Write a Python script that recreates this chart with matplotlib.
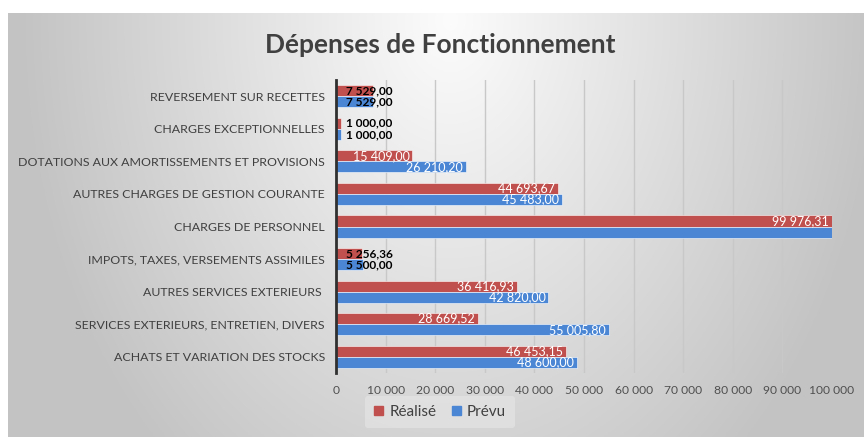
import numpy as np
import matplotlib
matplotlib.use("Agg")
import matplotlib.pyplot as plt
from matplotlib.patches import Rectangle
from matplotlib.ticker import FuncFormatter, MultipleLocator

categories = [
    "ACHATS ET VARIATION DES STOCKS",
    "SERVICES EXTERIEURS, ENTRETIEN, DIVERS",
    "AUTRES SERVICES EXTERIEURS ",
    "IMPOTS, TAXES, VERSEMENTS ASSIMILES",
    "CHARGES DE PERSONNEL",
    "AUTRES CHARGES DE GESTION COURANTE",
    "DOTATIONS AUX AMORTISSEMENTS ET PROVISIONS",
    "CHARGES EXCEPTIONNELLES",
    "REVERSEMENT SUR RECETTES",
]
realise = [46453.15, 28669.52, 36416.93, 5256.36, 99976.31, 44693.67, 15409.00, 1000.00, 7529.00]
prevu = [48600.00, 55005.80, 42820.00, 5500.00, 100000.00, 45483.00, 26210.20, 1000.00, 7529.00]
show_prevu_label = [True, True, True, True, False, True, True, True, True]
series_names = ["Réalisé", "Prévu"]

RED = "#C0504D"
BLUE = "#4A86D4"
FONT = "Lato"

W, H = 864, 437
fig = plt.figure(figsize=(W / 100, H / 100), dpi=100)
fig.patch.set_facecolor("white")

# background gradient
bg = fig.add_axes([0, 0, 1, 1], zorder=-10)
bg.set_xlim(0, W)
bg.set_ylim(H, 0)
bg.axis("off")
xx, yy = np.meshgrid(np.arange(8, W), np.arange(13, H))
r = np.sqrt(((xx - 450) / 440.0) ** 2 + ((yy - 20) / 600.0) ** 2)
g = np.clip(252 - 58 * r, 195, 252) / 255.0
img = np.dstack([g, g, g])
bg.imshow(img, extent=[8, W, H, 13], aspect="auto", interpolation="bilinear")

def fmt(v):
    s = f"{v:,.2f}"
    return s.replace(",", " ").replace(".", ",")

ax = fig.add_axes([336 / W, 1 - 373 / H, (832 - 336) / W, (373 - 80) / H])
ax.set_facecolor("none")
y = np.arange(len(categories))
h = 0.34
ax.barh(y + h / 2, realise, height=h, color=RED, edgecolor="white", linewidth=0.4, zorder=3)
ax.barh(y - h / 2, prevu, height=h, color=BLUE, edgecolor="white", linewidth=0.4, zorder=3)
ax.set_xlim(0, 100000)
ax.set_ylim(-0.5, len(categories) - 0.5)
ax.xaxis.set_major_locator(MultipleLocator(10000))
ax.xaxis.set_major_formatter(FuncFormatter(lambda v, p: f"{int(v):,}".replace(",", " ")))
ax.set_yticks(y)
ax.set_yticklabels(categories, fontfamily=FONT, fontsize=8.9, color="#404040")
for lab in ax.get_xticklabels():
    lab.set_fontfamily(FONT)
    lab.set_fontsize(8.7)
    lab.set_color("#505050")
ax.tick_params(axis="y", length=0, pad=8)
ax.tick_params(axis="x", length=0, pad=9)
ax.grid(axis="x", color="#C8C8C8", linewidth=1, zorder=0)
for s in ["top", "right", "bottom"]:
    ax.spines[s].set_visible(False)
ax.spines["left"].set_color("#303030")
ax.spines["left"].set_linewidth(2)
ax.spines["left"].set_zorder(5)

def label(val, ypos, show=True):
    if not show:
        return
    if val < 10000:
        ax.text(2000, ypos, fmt(val), ha="left", va="center", fontsize=8.6,
                fontfamily=FONT, fontweight="bold", color="black", zorder=6)
    else:
        ax.text(val - 600, ypos, fmt(val), ha="right", va="center", fontsize=9,
                fontfamily=FONT, color="white", zorder=6)

for i in range(len(categories)):
    label(realise[i], y[i] + h / 2)
    label(prevu[i], y[i] - h / 2, show_prevu_label[i])

fig.text(440 / W, 1 - 45 / H, "Dépenses de Fonctionnement", ha="center", va="center",
         fontsize=19, fontweight="bold", fontfamily=FONT, color="#404040")

handles = [Rectangle((0, 0), 1, 1, color=RED), Rectangle((0, 0), 1, 1, color=BLUE)]
leg = fig.legend(handles, series_names, loc="center", bbox_to_anchor=(440 / W, 1 - 412 / H),
                 ncol=2, frameon=True, prop={"family": FONT, "size": 11},
                 handlelength=0.6, handleheight=0.6, handletextpad=0.4, columnspacing=1.0,
                 borderpad=0.6)
leg.get_frame().set_facecolor("#E4E4E4")
leg.get_frame().set_edgecolor("none")
leg.get_frame().set_alpha(0.7)
for t in leg.get_texts():
    t.set_color("#404040")

fig.savefig("out.png", dpi=100)
